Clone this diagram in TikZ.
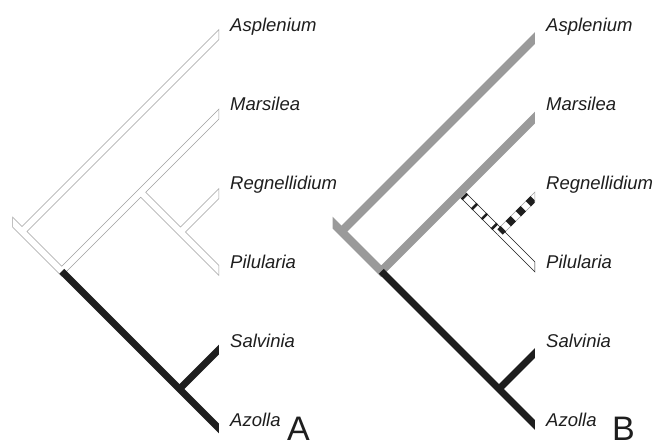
\documentclass[tikz,border=0pt]{standalone}
\usepackage{fontspec}
\setmainfont{Liberation Sans}
\definecolor{outl}{HTML}{A0A0A0}
\definecolor{bandgray}{HTML}{9A9A9A}
\definecolor{ink}{HTML}{1E1E1E}
\tikzset{
  outerband/.style={draw=outl, line width=7.6pt, line join=miter},
  darkouter/.style={draw=ink, line width=7.6pt, line join=miter},
  innerband/.style={draw=white, line width=6.2pt, line join=miter},
  blackband/.style={draw=ink, line width=7pt},
  grayband/.style={draw=bandgray, line width=8.4pt, line join=miter},
  ladder/.style={draw=ink, line width=7.8pt, dash pattern=on 2.6pt off 11.5pt, dash phase=9.4pt},
  squares/.style={draw=ink, line width=7.6pt, dash pattern=on 7pt off 7.1pt, dash phase=2.3pt},
  ext/.style={shorten >=-8pt},
  extb/.style={shorten <=-8pt, shorten >=-8pt},
  taxon/.style={anchor=base west, inner sep=0pt, font=\fontsize{18.5}{20}\selectfont\itshape, text=ink},
  panel/.style={anchor=base west, inner sep=0pt, font=\fontsize{34}{36}\selectfont, text=ink},
}
\begin{document}
\begin{tikzpicture}[x=1pt,y=-1pt]
\useasboundingbox (0,0) rectangle (655,444);
% ---------- tree A ----------
\coordinate (aS) at (13,222.5);
\coordinate (aJ0) at (22,231.5);
\coordinate (aJ1) at (61.75,271.25);
\coordinate (aJ2) at (140.75,192.25);
\coordinate (aJ3) at (180.5,232);
\coordinate (aJ4) at (179.5,389);
\coordinate (aAsp) at (218.5,35);
\coordinate (aMar) at (218.5,114.5);
\coordinate (aReg) at (218.5,194);
\coordinate (aPil) at (218.5,270);
\coordinate (aSal) at (218.5,350);
\coordinate (aAzo) at (218.5,428);
\begin{scope}
  \clip (12.3,0) rectangle (219.2,444);
  \draw[outerband,extb] (aS) -- (aJ0) -- (aJ1) -- (aMar);
  \draw[outerband,ext] (aJ0) -- (aAsp);
  \draw[outerband,ext] (aJ2) -- (aPil);
  \draw[outerband,ext] (aJ3) -- (aReg);
\end{scope}
\begin{scope}
  \clip (13,0) rectangle (218.5,444);
  \draw[innerband,extb] (aS) -- (aJ0) -- (aJ1) -- (aMar);
  \draw[innerband,ext] (aJ0) -- (aAsp);
  \draw[innerband,ext] (aJ2) -- (aPil);
  \draw[innerband,ext] (aJ3) -- (aReg);
\end{scope}
\begin{scope}
  \clip (0,0) rectangle (218.8,444);
  \draw[blackband,ext] (aJ1) -- (aAzo);
  \draw[blackband,ext] (aJ4) -- (aSal);
\end{scope}
\node[taxon] (tA1) at (230,32) {Asplenium};
\node[taxon] (tA2) at (230,110) {Marsilea};
\node[taxon] (tA3) at (230,189) {Regnellidium};
\node[taxon] (tA4) at (230,268) {Pilularia};
\node[taxon] (tA5) at (230,347) {Salvinia};
\node[taxon] (tA6) at (230,426) {Azolla};
\node[panel] (pA) at (287,440) {A};
% ---------- tree B ----------
\coordinate (bS) at (332.5,222.5);
\coordinate (bJ0) at (341.5,231.5);
\coordinate (bJ1) at (381.25,271.25);
\coordinate (bJ2) at (460.25,192.25);
\coordinate (bJ3) at (500,232);
\coordinate (bJ4) at (499,389);
\coordinate (bAsp) at (534.5,38.5);
\coordinate (bMar) at (534.5,118);
\coordinate (bReg) at (534.5,197.5);
\coordinate (bPil) at (534.5,266.5);
\coordinate (bSal) at (534.5,353.5);
\coordinate (bAzo) at (534.5,424.5);
\begin{scope}
  \clip (0,0) rectangle (535.2,444);
  \draw[darkouter] (bJ2) -- (bJ3);
  \draw[darkouter,ext] (bJ3) -- (bPil);
  \draw[outerband,ext] (bJ3) -- (bReg);
\end{scope}
\begin{scope}
  \clip (0,0) rectangle (534.5,444);
  \draw[innerband] (bJ2) -- (bJ3);
  \draw[innerband,ext] (bJ3) -- (bPil);
  \draw[innerband,ext] (bJ3) -- (bReg);
  \draw[ladder] (bJ2) -- (bJ3);
  \draw[squares] (bJ3) -- (bReg);
\end{scope}
\begin{scope}
  \clip (332.5,0) rectangle (534.8,444);
  \draw[grayband,extb] (bS) -- (bJ0) -- (bJ1) -- (bMar);
  \draw[grayband,ext] (bJ0) -- (bAsp);
  \draw[blackband,ext] (bJ1) -- (bAzo);
  \draw[blackband,ext] (bJ4) -- (bSal);
\end{scope}
\node[taxon] (tB1) at (546,32) {Asplenium};
\node[taxon] (tB2) at (546,110) {Marsilea};
\node[taxon] (tB3) at (546,189) {Regnellidium};
\node[taxon] (tB4) at (546,268) {Pilularia};
\node[taxon] (tB5) at (546,347) {Salvinia};
\node[taxon] (tB6) at (546,426) {Azolla};
\node[panel] (pB) at (612,440) {B};
\end{tikzpicture}
\end{document}
